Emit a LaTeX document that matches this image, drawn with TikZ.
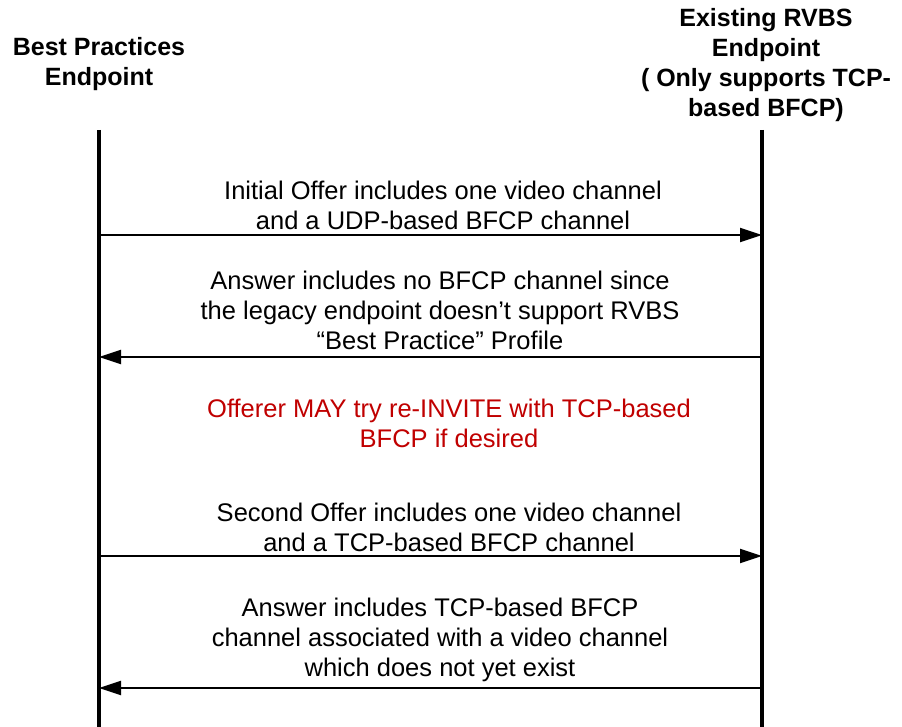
\documentclass[tikz,border=0pt]{standalone}
\usepackage{fontspec}
\setmainfont{Liberation Sans}
\usepackage{xcolor}
\definecolor{offerred}{RGB}{192,0,0}
\usetikzlibrary{
  arrows.meta,
  positioning,
  calc
}
\tikzset{
  lifeline/.style = {line width = 4pt},
  message/.style  = {line width = 2pt, -{Triangle[length=22pt, width=14pt]}},
  msgtext/.style  = {align=center, inner sep=0pt, font=\fontsize{25.5}{30}\selectfont},
  headtext/.style = {msgtext, font=\fontsize{25}{30}\selectfont\bfseries}
}

\begin{document}
\begin{tikzpicture}[x=1pt, y=-1pt]
  \useasboundingbox (0,0) rectangle (902,727);

  % Endpoints
  \node [headtext] (bestpractice) at ( 99, 64) {Best Practices\\Endpoint};
  \node [headtext] (legacy)       at (766, 65) {Existing RVBS\\Endpoint\\( Only supports TCP-\\based BFCP)};

  \coordinate (bptop) at ( 99, 130);
  \coordinate (bpbot) at ( 99, 727);
  \coordinate (lgtop) at (762, 130);
  \coordinate (lgbot) at (762, 727);

  \draw [lifeline] (bptop) -- (bpbot);
  \draw [lifeline] (lgtop) -- (lgbot);

  % Message end points
  \coordinate (bp1) at ( 99, 235);  \coordinate (lg1) at (762, 235);
  \coordinate (bp2) at ( 99, 357);  \coordinate (lg2) at (762, 357);
  \coordinate (bp3) at ( 99, 556);  \coordinate (lg3) at (762, 556);
  \coordinate (bp4) at ( 99, 688);  \coordinate (lg4) at (762, 688);

  % Messages
  \draw [message] (bp1) -- (lg1);
  \draw [message] (lg2) -- (bp2);
  \draw [message] (bp3) -- (lg3);
  \draw [message] (lg4) -- (bp4);

  \node [msgtext] (offer1)  at (443, 205) {Initial Offer includes one video channel\\and a UDP-based BFCP channel};
  \node [msgtext] (answer1) at (440, 310) {Answer includes no BFCP channel since\\the legacy endpoint doesn’t support RVBS\\“Best Practice” Profile};
  \node [msgtext, text=offerred] (reinvite) at (449, 423) {Offerer MAY try re-INVITE with TCP-based\\BFCP if desired};
  \node [msgtext] (offer2)  at (449, 527) {Second Offer includes one video channel\\and a TCP-based BFCP channel};
  \node [msgtext] (answer2) at (440, 640) {Answer includes TCP-based BFCP\\channel associated with a video channel\\which does not yet exist};
\end{tikzpicture}
\end{document}
